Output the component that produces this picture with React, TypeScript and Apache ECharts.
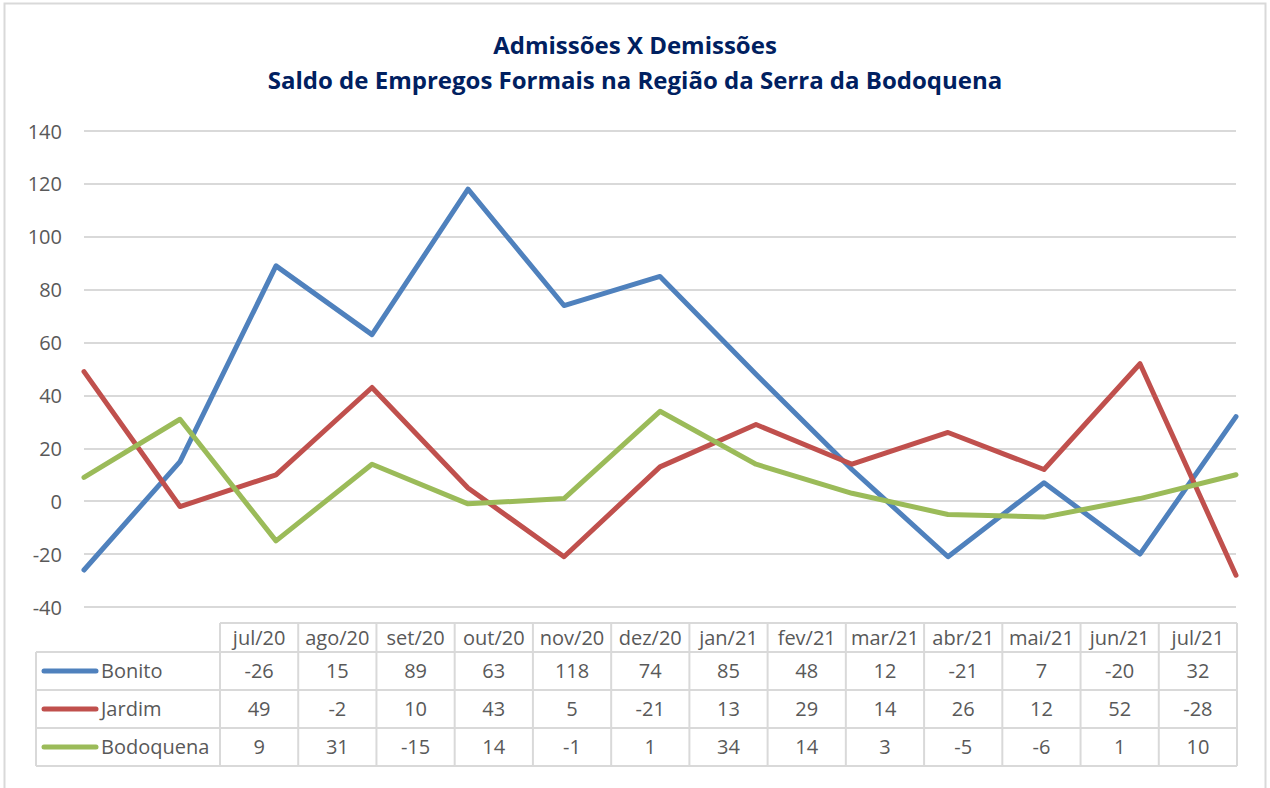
import React, { useEffect, useRef } from "react";
import * as echarts from "echarts";

const categories = ["jul/20", "ago/20", "set/20", "out/20", "nov/20", "dez/20", "jan/21", "fev/21", "mar/21", "abr/21", "mai/21", "jun/21", "jul/21"];
const seriesNames = ["Bonito", "Jardim", "Bodoquena"];
const bonito = [-26, 15, 89, 63, 118, 74, 85, 48, 12, -21, 7, -20, 32];
const jardim = [49, -2, 10, 43, 5, -21, 13, 29, 14, 26, 12, 52, -28];
const bodoquena = [9, 31, -15, 14, -1, 1, 34, 14, 3, -5, -6, 1, 10];
const yTicks = { min: -40, max: 140, interval: 20 };
const titleLines = ["Admissões X Demissões", "Saldo de Empregos Formais na Região da Serra da Bodoquena"];

const colors = ["#4f81bd", "#c0504d", "#9bbb59"];
const FONT = "'Open Sans', 'Noto Sans', sans-serif";
const TXT = "#595959";
const BORDER = "#d9d9d9";

export default function App() {
  const ref = useRef<HTMLDivElement>(null);
  useEffect(() => {
    document.body.style.margin = "0";
    const chart = echarts.init(ref.current!, null, { renderer: "svg" });
    const allSeries = [bonito, jardim, bodoquena];

    // data table geometry
    const tL = 36, x0 = 220, x1 = 1237;
    const hTop = 623, hBot = 652, rowH = 38;
    const colW = (x1 - x0) / categories.length;
    const g: any[] = [];
    const ln = (xa: number, ya: number, xb: number, yb: number) =>
      g.push({ type: "line", shape: { x1: xa, y1: ya, x2: xb, y2: yb }, style: { stroke: BORDER, lineWidth: 2 }, silent: true });
    ln(x0, hTop, x1, hTop);
    for (let r = 0; r <= seriesNames.length; r++) ln(tL, hBot + r * rowH, x1, hBot + r * rowH);
    ln(tL, hBot, tL, hBot + seriesNames.length * rowH);
    for (let i = 0; i <= categories.length; i++) ln(x0 + i * colW, hTop, x0 + i * colW, hBot + seriesNames.length * rowH);
    categories.forEach((c, i) => {
      g.push({ type: "text", x: x0 + (i + 0.5) * colW, y: (hTop + hBot) / 2, style: { text: c, fill: TXT, font: `20px ${FONT}`, textAlign: "center", textVerticalAlign: "middle" } });
    });
    seriesNames.forEach((name, r) => {
      const cy = hBot + (r + 0.5) * rowH;
      g.push({ type: "line", shape: { x1: 44, y1: cy, x2: 96, y2: cy }, style: { stroke: colors[r], lineWidth: 5, lineCap: "round" } });
      g.push({ type: "text", x: 101, y: cy - 1, style: { text: name, fill: TXT, font: `20px ${FONT}`, textAlign: "left", textVerticalAlign: "middle" } });
      allSeries[r].forEach((v, i) => {
        g.push({ type: "text", x: x0 + (i + 0.5) * colW, y: cy - 1, style: { text: String(v), fill: TXT, font: `20px ${FONT}`, textAlign: "center", textVerticalAlign: "middle" } });
      });
    });
    // outer border
    g.push({ type: "rect", shape: { x: 4.5, y: 3.5, width: 1261, height: 800 }, style: { fill: "none", stroke: BORDER, lineWidth: 2 }, silent: true, z: -1 });

    chart.setOption({
      animation: false,
      backgroundColor: "#ffffff",
      title: {
        text: titleLines.join("\n"),
        left: "center",
        top: 22,
        textStyle: { fontFamily: FONT, fontSize: 24, fontWeight: "bold", color: "#002060", lineHeight: 35 },
      },
      grid: { left: 84, right: 34, top: 131, bottom: 181 },
      xAxis: {
        type: "category",
        data: categories,
        boundaryGap: false,
        axisLine: { show: false },
        axisTick: { show: false },
        axisLabel: { show: false },
        splitLine: { show: false },
      },
      yAxis: {
        type: "value",
        min: yTicks.min,
        max: yTicks.max,
        interval: yTicks.interval,
        axisLine: { show: false },
        axisTick: { show: false },
        axisLabel: { color: TXT, fontSize: 20, fontFamily: FONT, margin: 22 },
        splitLine: { lineStyle: { color: BORDER, width: 2 } },
      },
      series: seriesNames.map((name, i) => ({
        name,
        type: "line",
        data: allSeries[i],
        symbol: "none",
        lineStyle: { color: colors[i], width: 5, cap: "round", join: "round" },
        itemStyle: { color: colors[i] },
      })),
      graphic: g,
    });
    return () => chart.dispose();
  }, []);
  return <div ref={ref} style={{ width: 1270, height: 788, position: "fixed", left: 0, top: 0 }} />;
}
